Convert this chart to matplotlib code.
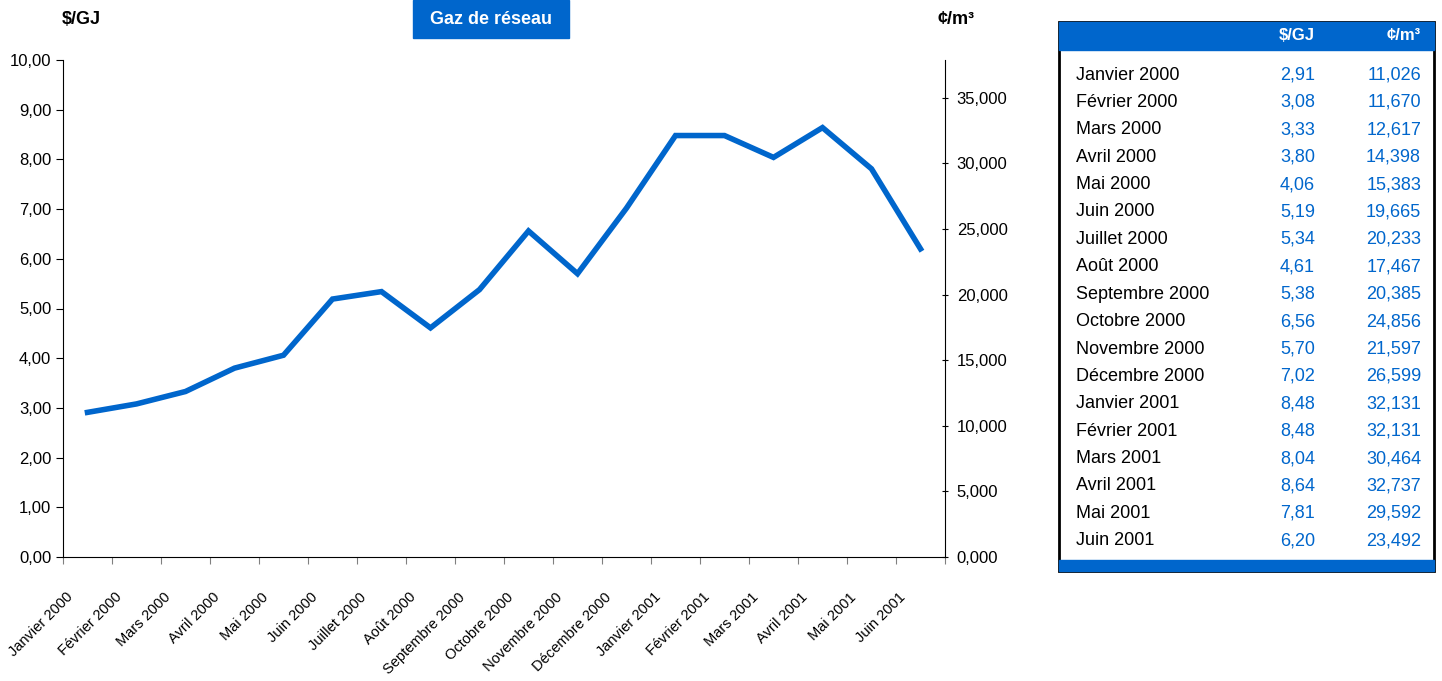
import matplotlib
matplotlib.use('Agg')
import matplotlib.pyplot as plt
import matplotlib.transforms as mtransforms
from matplotlib.patches import Rectangle
from matplotlib.ticker import FuncFormatter, MultipleLocator

plt.rcParams['font.family'] = ['Liberation Sans', 'DejaVu Sans']

# Données
mois = ['Janvier 2000', 'Février 2000', 'Mars 2000', 'Avril 2000', 'Mai 2000', 'Juin 2000',
        'Juillet 2000', 'Août 2000', 'Septembre 2000', 'Octobre 2000', 'Novembre 2000',
        'Décembre 2000', 'Janvier 2001', 'Février 2001', 'Mars 2001', 'Avril 2001',
        'Mai 2001', 'Juin 2001']
prix_gj = [2.91, 3.08, 3.33, 3.80, 4.06, 5.19, 5.34, 4.61, 5.38, 6.56, 5.70, 7.02,
           8.48, 8.48, 8.04, 8.64, 7.81, 6.20]
prix_m3 = [11.026, 11.670, 12.617, 14.398, 15.383, 19.665, 20.233, 17.467, 20.385,
           24.856, 21.597, 26.599, 32.131, 32.131, 30.464, 32.737, 29.592, 23.492]

bleu = '#0066CC'
W, H = 1442, 681

fig = plt.figure(figsize=(W / 100, H / 100), dpi=100)
ax = fig.add_axes([63 / W, 1 - 557 / H, (945 - 63) / W, (557 - 60) / H])

x = list(range(len(mois)))
ax.plot(x, prix_gj, color=bleu, lw=4, solid_joinstyle='miter')
ax.set_xlim(-0.5, len(mois) - 0.5)
ax.set_ylim(0, 10)
ax.yaxis.set_major_locator(MultipleLocator(1))
ax.yaxis.set_major_formatter(FuncFormatter(lambda v, p: f'{v:.2f}'.replace('.', ',')))

# ticks entre les catégories, étiquettes au centre
ax.set_xticks([i - 0.5 for i in range(len(mois) + 1)])
ax.set_xticklabels([])
ax.set_xticks(x, minor=True)
ax.set_xticklabels(mois, minor=True, rotation=45, ha='right', va='top',
                   rotation_mode='anchor', fontsize=10.5)
ax.tick_params(axis='x', which='minor', length=0, pad=8)
ax.tick_params(axis='x', which='major', length=5, direction='out', color='#808080')
ax.tick_params(axis='y', labelsize=12, length=5, direction='out')
decalage = mtransforms.ScaledTranslation(-0.22, -0.22, fig.dpi_scale_trans)
for lab in ax.get_xticklabels(minor=True):
    lab.set_transform(lab.get_transform() + decalage)
for s in ['top', 'right']:
    ax.spines[s].set_visible(False)

ax2 = ax.twinx()
ax2.set_ylim(0, 10 * 11.026 / 2.91)
ax2.yaxis.set_major_locator(MultipleLocator(5))
ax2.yaxis.set_major_formatter(FuncFormatter(lambda v, p: f'{v:.3f}'.replace('.', ',')))
ax2.tick_params(axis='y', labelsize=12, length=5, direction='inout', pad=6)
for s in ['top', 'left', 'bottom']:
    ax2.spines[s].set_visible(False)

# Titres
fig.text(62 / W, 1 - 20 / H, '$/GJ', fontsize=13, fontweight='bold', va='center')
fig.text(975 / W, 1 - 20 / H, '¢/m³', fontsize=13, fontweight='bold', va='center', ha='right')
fig.patches.append(Rectangle((413 / W, 1 - 38 / H), 156 / W, 38 / H, transform=fig.transFigure,
                             color=bleu, zorder=0))
fig.text(491 / W, 1 - 19 / H, 'Gaz de réseau', fontsize=13, fontweight='bold', color='white',
         ha='center', va='center')

# Tableau
x0, x1, y0, y1 = 1059, 1434, 22, 571
fig.patches.append(Rectangle((x0 / W, 1 - y1 / H), (x1 - x0) / W, (y1 - y0) / H,
                             transform=fig.transFigure, facecolor='white', edgecolor='black',
                             lw=2, zorder=0))
fig.patches.append(Rectangle((x0 / W, 1 - 50 / H), (x1 - x0) / W, 28 / H,
                             transform=fig.transFigure, color=bleu, zorder=1))
fig.patches.append(Rectangle((x0 / W, 1 - y1 / H), (x1 - x0) / W, 11 / H,
                             transform=fig.transFigure, color=bleu, zorder=1))
fig.text(1315 / W, 1 - 36 / H, '$/GJ', fontsize=12, fontweight='bold', color='white',
         ha='right', va='center')
fig.text(1421 / W, 1 - 36 / H, '¢/m³', fontsize=12, fontweight='bold', color='white',
         ha='right', va='center')
for i, m in enumerate(mois):
    y = 1 - (75 + i * 27.4) / H
    fig.text(1076 / W, y, m, fontsize=13, ha='left', va='center')
    fig.text(1315 / W, y, f'{prix_gj[i]:.2f}'.replace('.', ','), fontsize=13, color=bleu,
             ha='right', va='center')
    fig.text(1421 / W, y, f'{prix_m3[i]:.3f}'.replace('.', ','), fontsize=13, color=bleu,
             ha='right', va='center')

fig.savefig('out.png', dpi=100)
